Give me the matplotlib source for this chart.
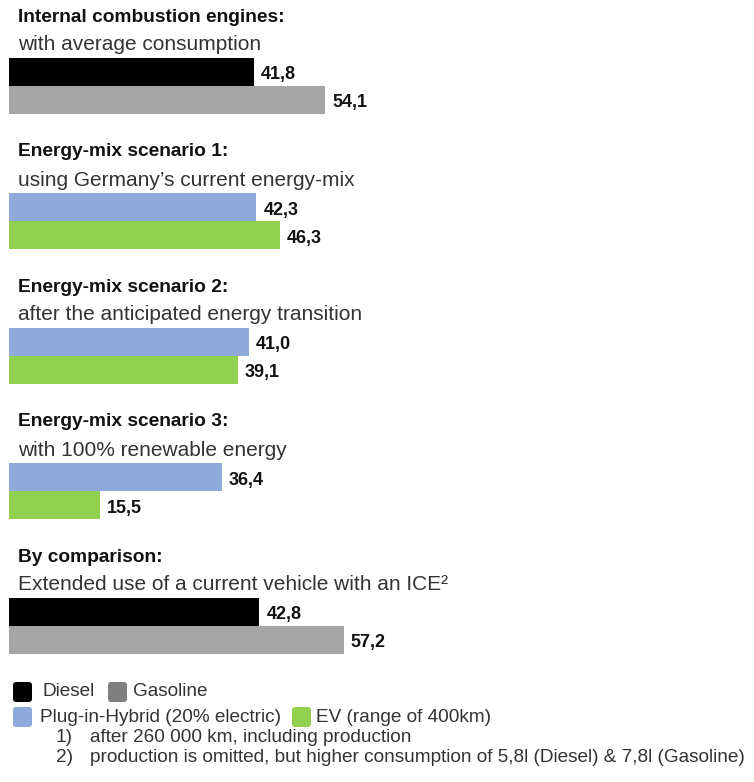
import matplotlib
matplotlib.use("Agg")
import matplotlib.pyplot as plt
from matplotlib import font_manager
from matplotlib.patches import FancyBboxPatch

# Lifetime emissions per vehicle type (values as printed, comma decimals)
HEADINGS = [
    "Internal combustion engines:",
    "Energy-mix scenario 1:",
    "Energy-mix scenario 2:",
    "Energy-mix scenario 3:",
    "By comparison:",
]
SUBTITLES = [
    "with average consumption",
    "using Germany\u2019s current energy-mix",
    "after the anticipated energy transition",
    "with 100% renewable energy",
    "Extended use of a current vehicle with an ICE\u00b2",
]
GROUP_KIND = ["ice", "elec", "elec", "elec", "ice"]
TOP_VALUES = [41.8, 42.3, 41.0, 36.4, 42.8]      # Diesel / Plug-in-Hybrid
BOTTOM_VALUES = [54.1, 46.3, 39.1, 15.5, 57.2]   # Gasoline / EV

LEGEND_ROW1 = ["Diesel", "Gasoline"]
LEGEND_ROW2 = ["Plug-in-Hybrid (20% electric)", "EV (range of 400km)"]
FOOTNOTES = [
    "after 260 000 km, including production",
    "production is omitted, but higher consumption of 5,8l (Diesel) & 7,8l (Gasoline)",
]

COLORS = {
    "ice": ("#000000", "#a5a5a5"),
    "elec": ("#8eaadb", "#92d050"),
}
LEGEND_COLORS = ["#000000", "#7f7f7f", "#8eaadb", "#92d050"]

names = {f.name for f in font_manager.fontManager.ttflist}
NARROW = "Liberation Sans Narrow" if "Liberation Sans Narrow" in names else "Liberation Sans"
NARROW_SIZE = 15.5 if NARROW == "Liberation Sans Narrow" else 13.7
plt.rcParams["font.family"] = ["Liberation Sans", "DejaVu Sans"]

W, H = 754, 782
PX_PER_UNIT = 5.85   # horizontal scale of the bars
X0 = 9               # left edge of bars in pixels

fig = plt.figure(figsize=(W / 100, H / 100), dpi=100)
ax = fig.add_axes([0, 0, 1, 1])
ax.set_xlim(-X0 / PX_PER_UNIT, (W - X0) / PX_PER_UNIT)
ax.set_ylim(H, 0)
ax.axis("off")


def px(x):
    """pixel column -> data x"""
    return (x - X0) / PX_PER_UNIT


def fmt(v):
    return f"{v:.1f}".replace(".", ",")


bar_h = 28
for i, (head, sub, kind, top_v, bot_v) in enumerate(
        zip(HEADINGS, SUBTITLES, GROUP_KIND, TOP_VALUES, BOTTOM_VALUES)):
    top = 58 + 135 * i
    c1, c2 = COLORS[kind]
    ax.text(px(18), top - 41, head, fontsize=13.8, fontweight="bold",
            color="#111111", va="center", ha="left")
    ax.text(px(18), top - 13, sub, fontsize=15, color="#333333",
            va="center", ha="left")
    y1 = top + bar_h / 2
    y2 = top + bar_h * 1.5
    ax.barh([y1, y2], [top_v, bot_v], height=bar_h, left=0,
            color=[c1, c2], edgecolor="none")
    for y, v in ((y1, top_v), (y2, bot_v)):
        ax.text(v + 7 / PX_PER_UNIT, y + 3, fmt(v), fontsize=13,
                fontweight="bold", color="#111111", va="center", ha="left")


def swatch(x, y, color):
    # small rounded square used as legend key
    ax.add_patch(FancyBboxPatch((px(x), y - 10), 19 / PX_PER_UNIT, 20,
                                boxstyle="round,pad=0,rounding_size=0.5",
                                mutation_aspect=PX_PER_UNIT,
                                facecolor=color, edgecolor="none"))


legend_y = [692, 717]
rows = [(LEGEND_ROW1, [13, 108], [42, 133]), (LEGEND_ROW2, [13, 292], [40, 316])]
k = 0
for (labels, sx, tx), y in zip(rows, legend_y):
    for lab, s, t in zip(labels, sx, tx):
        swatch(s, y, LEGEND_COLORS[k])
        ax.text(px(t), y, lab, fontsize=NARROW_SIZE, family=NARROW,
                color="#333333", va="center", ha="left")
        k += 1

for j, note in enumerate(FOOTNOTES):
    y = 737 + 21 * j
    ax.text(px(56), y, f"{j + 1})", fontsize=NARROW_SIZE, family=NARROW,
            color="#333333", va="center", ha="left")
    ax.text(px(90), y, note, fontsize=NARROW_SIZE, family=NARROW,
            color="#333333", va="center", ha="left")

fig.savefig("out.png", dpi=100)
